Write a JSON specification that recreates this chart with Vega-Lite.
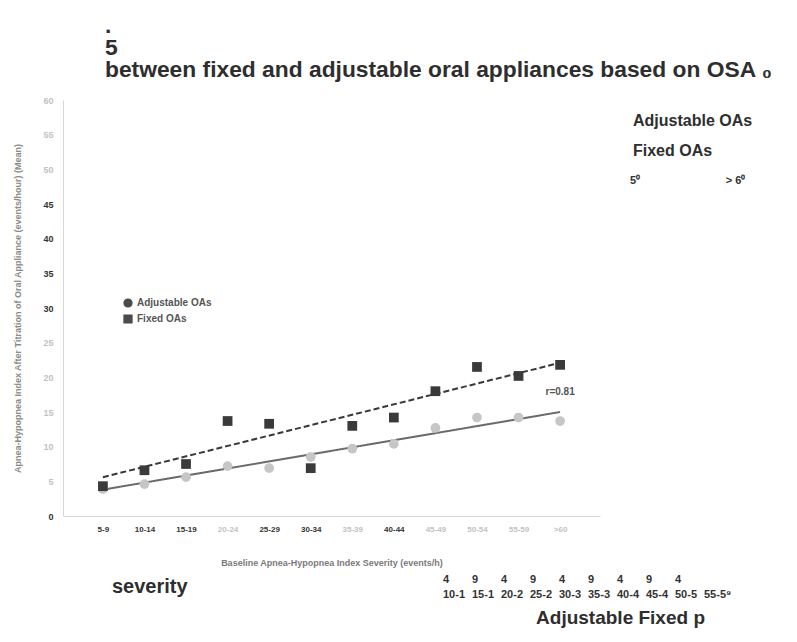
{
  "$schema": "https://vega.github.io/schema/vega-lite/v6.json",
  "background": "white",
  "padding": {"left": 13, "top": 15, "right": 5, "bottom": 5},
  "datasets": {
    "points": [
      {"cat": "5-9", "series": "Adjustable OAs", "ahi": 3.9},
      {"cat": "10-14", "series": "Adjustable OAs", "ahi": 4.6},
      {"cat": "15-19", "series": "Adjustable OAs", "ahi": 5.6},
      {"cat": "20-24", "series": "Adjustable OAs", "ahi": 7.2},
      {"cat": "25-29", "series": "Adjustable OAs", "ahi": 6.9},
      {"cat": "30-34", "series": "Adjustable OAs", "ahi": 8.5},
      {"cat": "35-39", "series": "Adjustable OAs", "ahi": 9.7},
      {"cat": "40-44", "series": "Adjustable OAs", "ahi": 10.4},
      {"cat": "45-49", "series": "Adjustable OAs", "ahi": 12.7},
      {"cat": "50-54", "series": "Adjustable OAs", "ahi": 14.2},
      {"cat": "55-59", "series": "Adjustable OAs", "ahi": 14.2},
      {"cat": ">60", "series": "Adjustable OAs", "ahi": 13.7},
      {"cat": "5-9", "series": "Fixed OAs", "ahi": 4.3},
      {"cat": "10-14", "series": "Fixed OAs", "ahi": 6.6},
      {"cat": "15-19", "series": "Fixed OAs", "ahi": 7.5},
      {"cat": "20-24", "series": "Fixed OAs", "ahi": 13.7},
      {"cat": "25-29", "series": "Fixed OAs", "ahi": 13.3},
      {"cat": "30-34", "series": "Fixed OAs", "ahi": 6.9},
      {"cat": "35-39", "series": "Fixed OAs", "ahi": 13.0},
      {"cat": "40-44", "series": "Fixed OAs", "ahi": 14.2},
      {"cat": "45-49", "series": "Fixed OAs", "ahi": 18.0},
      {"cat": "50-54", "series": "Fixed OAs", "ahi": 21.5},
      {"cat": "55-59", "series": "Fixed OAs", "ahi": 20.2},
      {"cat": ">60", "series": "Fixed OAs", "ahi": 21.8}
    ],
    "trend": [
      {"cat": "5-9", "series": "Adjustable OAs", "ahi": 3.8},
      {"cat": ">60", "series": "Adjustable OAs", "ahi": 15.0},
      {"cat": "5-9", "series": "Fixed OAs", "ahi": 5.6},
      {"cat": ">60", "series": "Fixed OAs", "ahi": 22.1}
    ],
    "notes": [
      {"cat": ">60", "ahi": 17.9, "label": "r=0.81"}
    ]
  },
  "title": {
    "text": [".", "5", "between fixed and adjustable oral appliances based on OSA  ₀"],
    "anchor": "start",
    "frame": "group",
    "font": "Liberation Sans",
    "fontSize": 22.8,
    "fontWeight": "bold",
    "color": "#2e2e2e",
    "lineHeight": 22,
    "dx": 42,
    "offset": 14
  },
  "vconcat": [
    {
      "width": 537,
      "height": 416,
      "title": {
        "text": "Adjustable Fixed p",
        "orient": "bottom",
        "anchor": "end",
        "frame": "group",
        "font": "Liberation Sans",
        "fontSize": 19,
        "fontWeight": "bold",
        "color": "#2e2e2e",
        "dx": 105,
        "offset": 42
      },
      "encoding": {
        "x": {
          "field": "cat", "type": "ordinal",
          "scale": {"type": "point", "domain": ["5-9","10-14","15-19","20-24","25-29","30-34","35-39","40-44","45-49","50-54","55-59",">60"], "padding": 0.96},
          "axis": {
            "title": "Baseline Apnea-Hypopnea Index Severity (events/h)",
            "labelAngle": 0,
            "labelFontSize": 8,
            "labelFontWeight": "bold",
            "labelColor": {"condition": {"test": "indexof(['20-24','35-39','45-49','50-54','55-59','>60'], datum.value) >= 0", "value": "#c2c2c2"}, "value": "#333333"},
            "labelPadding": 9,
            "ticks": false,
            "domainColor": "#d6d6d6",
            "titleFontSize": 9,
            "titleFontWeight": "bold",
            "titleColor": "#7a7a7a",
            "titlePadding": 25
          }
        },
        "y": {
          "field": "ahi", "type": "quantitative",
          "scale": {"domain": [0, 60], "nice": false},
          "axis": {
            "title": "Apnea-Hypopnea Index After Titration of Oral Appliance (events/hour) (Mean)",
            "values": [0,5,10,15,20,25,30,35,40,45,50,55,60],
            "labelOverlap": false,
            "labelFontSize": 9,
            "labelFontWeight": "bold",
            "labelColor": {"condition": {"test": "datum.value == 0 || (datum.value >= 30 && datum.value <= 45)", "value": "#333333"}, "value": "#c2c2c2"},
            "labelPadding": 10,
            "ticks": false,
            "grid": false,
            "domainColor": "#d6d6d6",
            "titleFontSize": 9,
            "titleFontWeight": "bold",
            "titleColor": "#8a8a8a",
            "titlePadding": 20
          }
        }
      },
      "layer": [
        {
          "data": {"name": "trend"},
          "mark": {"type": "line", "strokeWidth": 2},
          "encoding": {
            "stroke": {
              "field": "series", "type": "nominal",
              "scale": {"range": ["#6a6a6a", "#383838"]},
              "legend": null
            },
            "strokeDash": {
              "field": "series", "type": "nominal",
              "scale": {"range": [[1, 0], [6, 3]]},
              "legend": null
            }
          }
        },
        {
          "data": {"name": "points"},
          "mark": {"type": "point", "filled": true, "size": 95, "opacity": 1},
          "encoding": {
            "color": {
              "field": "series", "type": "nominal",
              "scale": {"range": ["#c6c6c6", "#3a3a3a"]},
              "legend": {
                "orient": "right",
                "title": "5\u2070\u00a0\u00a0\u00a0\u00a0\u00a0\u00a0\u00a0\u00a0\u00a0\u00a0\u00a0\u00a0\u00a0\u00a0\u00a0\u00a0\u00a0\u00a0\u00a0\u00a0\u00a0\u00a0\u00a0\u00a0\u00a0\u00a0\u00a0\u00a0> 6\u2070",
                "titleOrient": "bottom",
                "titleFontSize": 11,
                "titleFontWeight": "bold",
                "titleColor": "#333333",
                "titlePadding": 16,
                "titleLimit": 300,
                "offset": -88,
                "padding": 13,
                "symbolOpacity": 0,
                "symbolSize": 1,
                "labelOffset": -13,
                "rowPadding": 14,
                "labelFontSize": 16,
                "labelFontWeight": "bold",
                "labelColor": "#2e2e2e"
              }
            },
            "shape": {
              "field": "series", "type": "nominal",
              "scale": {"range": ["circle", "square"]},
              "legend": {
                "orient": "none",
                "legendX": 60,
                "legendY": 198,
                "title": null,
                "padding": 0,
                "symbolSize": 60,
                "symbolFillColor": "#4a4a4a",
                "symbolStrokeColor": "#4a4a4a",
                "labelFontSize": 10,
                "labelFontWeight": "bold",
                "labelColor": "#555555",
                "rowPadding": 2
              }
            }
          }
        },
        {
          "data": {"name": "points"},
          "mark": {"type": "point"},
          "encoding": {
            "opacity": {
              "field": "cat", "type": "ordinal",
              "scale": {"domain": ["5-9","10-14","15-19","20-24","25-29","30-34","35-39","40-44","45-49","50-54","55-59",">60"], "range": [0, 0]},
              "legend": {
                "orient": "none",
                "legendX": 49,
                "legendY": 474,
                "direction": "horizontal",
                "columns": 10,
                "values": ["10-14","15-19","20-24","25-29","30-34","35-39","40-44","45-49","50-54","55-59"],
                "title": "severity",
                "titleOrient": "left",
                "titleFontSize": 20,
                "titleFontWeight": "bold",
                "titleColor": "#2e2e2e",
                "titlePadding": 254,
                "padding": 0,
                "symbolSize": 1,
                "labelOffset": -10,
                "columnPadding": 5,
                "labelFontSize": 11,
                "labelFontWeight": "bold",
                "labelColor": "#333333",
                "labelExpr": "datum.label == '55-59' ? ['', '55-5⁹'] : [slice(datum.label, -1), slice(datum.label, 0, -1)]"
              }
            }
          }
        },
        {
          "data": {"name": "notes"},
          "mark": {"type": "text", "fontSize": 10, "fontWeight": "bold", "color": "#555555"},
          "encoding": {
            "text": {"field": "label"}
          }
        }
      ]
    }
  ],
  "config": {
    "font": "Liberation Sans",
    "view": {"stroke": null},
    "axisY": {"labelOverlap": false},
    "style": {"guide-label": {"lineHeight": 15}}
  }
}
